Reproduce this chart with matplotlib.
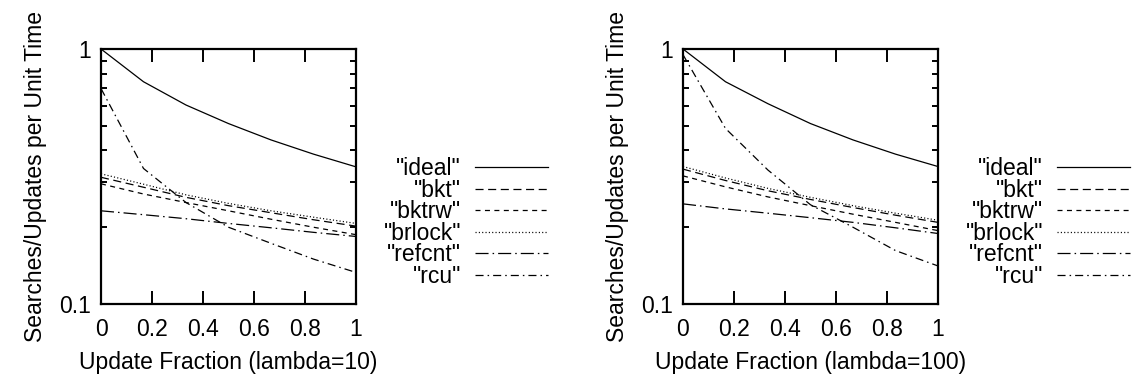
import matplotlib
matplotlib.use('Agg')
import matplotlib.pyplot as plt
from matplotlib.ticker import NullFormatter

plt.rcParams['font.family'] = ['Liberation Sans', 'DejaVu Sans']
plt.rcParams['font.size'] = 16.5
plt.rcParams['lines.scale_dashes'] = False

# update fractions (sixths)
frac = [0, 1/6, 1/3, 1/2, 2/3, 5/6, 1]

# lambda = 10
ideal_10 = [1.0, 0.744, 0.603, 0.51, 0.44, 0.387, 0.345]
bkt_10 = [0.314, 0.287, 0.262, 0.243, 0.228, 0.214, 0.202]
bktrw_10 = [0.296, 0.27, 0.25, 0.232, 0.215, 0.2, 0.187]
brlock_10 = [0.324, 0.295, 0.268, 0.248, 0.232, 0.219, 0.207]
refcnt_10 = [0.232, 0.224, 0.216, 0.207, 0.199, 0.191, 0.184]
rcu_10 = [0.70, 0.34, 0.25, 0.2, 0.173, 0.15, 0.133]

# lambda = 100
ideal_100 = [1.0, 0.744, 0.61, 0.51, 0.44, 0.387, 0.346]
bkt_100 = [0.338, 0.305, 0.278, 0.257, 0.239, 0.223, 0.209]
bktrw_100 = [0.318, 0.288, 0.263, 0.243, 0.225, 0.209, 0.194]
brlock_100 = [0.346, 0.312, 0.284, 0.262, 0.243, 0.227, 0.213]
refcnt_100 = [0.247, 0.236, 0.227, 0.218, 0.209, 0.199, 0.189]
rcu_100 = [0.95, 0.488, 0.335, 0.245, 0.2, 0.162, 0.141]

names = ['"ideal"', '"bkt"', '"bktrw"', '"brlock"', '"refcnt"', '"rcu"']
styles = ['-', (0, (5.8, 3.3)), (0, (3.6, 3.2)), (0, (0.8, 1.6)),
          (0, (9.4, 2.9, 1.1, 2.9)), (0, (5.8, 2.9, 1.1, 2.9))]

xticks = [0, 0.2, 0.4, 0.6, 0.8, 1]
xticklabels = ['0', '0.2', '0.4', '0.6', '0.8', '1']
yminor = [0.2, 0.3, 0.4, 0.5, 0.6, 0.7, 0.8, 0.9]

W, H = 1136, 379
fig = plt.figure(figsize=(W / 100, H / 100), dpi=100)

panels = [
    (101, 'Update Fraction (lambda=10)',
     [ideal_10, bkt_10, bktrw_10, brlock_10, refcnt_10, rcu_10], 548),
    (683, 'Update Fraction (lambda=100)',
     [ideal_100, bkt_100, bktrw_100, brlock_100, refcnt_100, rcu_100], 1130),
]

for left, xlabel, series, leg_right in panels:
    ax = fig.add_axes([left / W, 1 - 304 / H, 255 / W, 255 / H])
    for vals, name, ls in zip(series, names, styles):
        ax.plot(frac, vals, color='black', linewidth=0.9, linestyle=ls, label=name)
    ax.set_yscale('log')
    ax.set_xlim(0, 1)
    ax.set_ylim(0.1, 1)
    ax.set_xticks(xticks, labels=xticklabels)
    ax.set_yticks([0.1, 1], labels=['0.1', '1'])
    ax.set_yticks(yminor, minor=True)
    ax.yaxis.set_minor_formatter(NullFormatter())
    ax.set_xticks([], minor=True)
    ax.tick_params(which='major', direction='in', length=9.5, width=1.4,
                   top=True, right=True)
    ax.tick_params(axis='x', which='major', pad=10)
    ax.tick_params(axis='y', which='major', pad=7)
    ax.tick_params(which='minor', direction='in', length=4.5, width=1.4,
                   left=True, right=True)
    for sp in ax.spines.values():
        sp.set_linewidth(1.6)
    ax.set_xlabel(xlabel, labelpad=7)
    ax.set_ylabel('Searches/Updates per Unit Time', labelpad=9)
    ax.legend(loc='center right', bbox_to_anchor=(leg_right / W, 1 - 222.5 / H),
              bbox_transform=fig.transFigure, frameon=False, markerfirst=False,
              alignment='right', handlelength=3.2, handletextpad=0.6,
              labelspacing=-0.06, borderpad=0, borderaxespad=0)

fig.savefig('out.png', dpi=100, facecolor='white')
